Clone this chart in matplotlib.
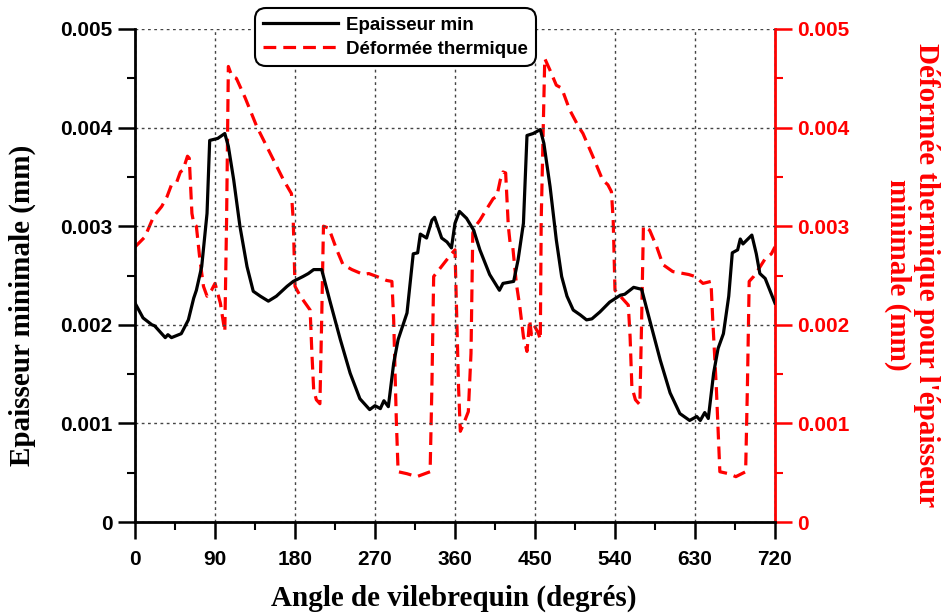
import numpy as np
import matplotlib
matplotlib.use("Agg")
import matplotlib.pyplot as plt
from matplotlib.ticker import MultipleLocator, FuncFormatter

# Epaisseur min (mm) vs angle (deg)
angle_ep = [0, 9, 19, 22, 34, 37, 41, 52, 60, 66, 69, 75, 81, 84, 93, 101, 105, 111, 118,
            126, 133, 141, 150, 159, 171, 178, 189, 195, 201, 210, 219, 231, 242, 253, 264,
            270, 276, 280, 285, 291, 296, 306, 313, 318, 321, 328, 334, 337, 345, 351, 356,
            360, 365, 373, 381, 388, 399, 410, 414, 426, 431, 437, 441, 448, 456, 460, 467,
            474, 480, 486, 493, 501, 508, 514, 523, 534, 546, 551, 561, 570, 579, 591, 602,
            613, 624, 632, 636, 641, 645, 651, 656, 662, 668, 672, 678, 681, 684, 694, 699,
            703, 709, 720]
epaisseur = [2.22, 2.07, 2.00, 1.99, 1.87, 1.90, 1.87, 1.91, 2.05, 2.27, 2.35, 2.59, 3.13,
             3.87, 3.89, 3.94, 3.81, 3.47, 3.00, 2.59, 2.34, 2.29, 2.24, 2.29, 2.39, 2.44,
             2.49, 2.52, 2.56, 2.56, 2.25, 1.85, 1.51, 1.25, 1.14, 1.18, 1.15, 1.23, 1.17,
             1.61, 1.85, 2.12, 2.72, 2.73, 2.92, 2.88, 3.06, 3.09, 2.88, 2.84, 2.78, 3.03,
             3.15, 3.08, 2.96, 2.76, 2.51, 2.35, 2.42, 2.44, 2.66, 3.03, 3.92, 3.94, 3.98,
             3.84, 3.40, 2.86, 2.49, 2.29, 2.15, 2.10, 2.05, 2.06, 2.13, 2.23, 2.30, 2.31,
             2.38, 2.36, 2.05, 1.64, 1.31, 1.10, 1.03, 1.07, 1.03, 1.11, 1.05, 1.51, 1.76,
             1.91, 2.29, 2.73, 2.76, 2.87, 2.82, 2.91, 2.72, 2.52, 2.47, 2.22]

# Deformee thermique (mm) vs angle (deg)
angle_def = [0, 11, 21, 30, 36, 41, 47, 51, 54, 59, 61, 64, 66, 69, 73, 77, 81, 86, 90, 96,
             101, 103, 105, 109, 114, 124, 137, 152, 167, 176, 178, 180, 186, 197, 199, 201,
             204, 208, 210, 212, 218, 227, 234, 244, 257, 263, 272, 283, 289, 291, 294, 296,
             306, 317, 332, 334, 336, 343, 351, 356, 360, 362, 364, 366, 369, 375, 378, 380,
             383, 388, 396, 403, 407, 411, 414, 417, 420, 422, 425, 429, 433, 437, 441, 444,
             446, 450, 454, 456, 457, 461, 467, 474, 480, 489, 499, 504, 515, 526, 532, 536,
             538, 540, 546, 555, 557, 559, 563, 568, 570, 572, 579, 587, 594, 605, 617, 623,
             630, 639, 648, 650, 654, 658, 668, 676, 687, 689, 691, 696, 702, 709, 716, 720]
deformee = [2.79, 2.89, 3.10, 3.20, 3.30, 3.42, 3.45, 3.55, 3.57, 3.71, 3.69, 3.13, 3.03,
            3.00, 2.66, 2.39, 2.29, 2.35, 2.42, 2.22, 1.93, 3.06, 4.62, 4.52, 4.50, 4.30,
            4.01, 3.74, 3.47, 3.33, 3.06, 2.39, 2.29, 2.15, 1.71, 1.34, 1.24, 1.20, 2.05,
            3.00, 2.98, 2.76, 2.61, 2.56, 2.51, 2.52, 2.49, 2.45, 2.44, 2.05, 1.03, 0.51,
            0.49, 0.46, 0.51, 1.37, 2.49, 2.57, 2.66, 2.72, 2.76, 2.05, 1.37, 0.92, 0.98,
            1.12, 1.71, 2.93, 3.00, 3.06, 3.18, 3.28, 3.30, 3.47, 3.55, 3.54, 3.00, 2.83,
            2.79, 2.42, 2.18, 1.88, 1.73, 2.05, 1.90, 1.98, 1.91, 1.85, 3.06, 4.70, 4.58,
            4.43, 4.40, 4.18, 4.01, 3.94, 3.71, 3.47, 3.42, 3.35, 3.06, 2.35, 2.29, 2.20,
            1.88, 1.37, 1.24, 1.19, 2.05, 3.00, 2.96, 2.79, 2.61, 2.54, 2.52, 2.51, 2.49,
            2.42, 2.44, 2.05, 1.37, 0.51, 0.49, 0.46, 0.51, 1.37, 2.44, 2.49, 2.57, 2.67,
            2.72, 2.79]

ep = np.array(epaisseur) / 1000.0
de = np.array(deformee) / 1000.0

sans = ['Liberation Sans', 'Arial', 'DejaVu Sans']
serif = ['Liberation Serif', 'Times New Roman', 'DejaVu Serif']

fig = plt.figure(figsize=(9.43, 6.14), dpi=100)
ax = fig.add_axes([0.1432, 0.1498, 0.6786, 0.803])
ax2 = ax.twinx()

l1, = ax.plot(angle_ep, ep, color='black', lw=2.3, label='Epaisseur min', zorder=3)
l2, = ax2.plot(angle_def, de, color='red', lw=2.3, ls=(0, (4, 2.2)), label='Déformée thermique', zorder=3)

fmt = FuncFormatter(lambda v, p: '0' if abs(v) < 1e-9 else f'{v:.3f}')
for a, c in ((ax, 'black'), (ax2, 'red')):
    a.set_ylim(0, 0.005)
    a.yaxis.set_major_locator(MultipleLocator(0.001))
    a.yaxis.set_minor_locator(MultipleLocator(0.0005))
    a.yaxis.set_major_formatter(fmt)
    a.tick_params(axis='y', which='major', direction='out', length=12, width=1.8,
                  colors=c, labelsize=15, pad=4)
    a.tick_params(axis='y', which='minor', direction='out', length=6, width=1.5, colors=c)
    for lab in a.get_yticklabels():
        lab.set_fontweight('bold')
        lab.set_family(sans)

ax.set_xlim(0, 720)
ax.xaxis.set_major_locator(MultipleLocator(90))
ax.xaxis.set_minor_locator(MultipleLocator(45))
ax.tick_params(axis='x', which='major', direction='out', length=12, width=1.8, labelsize=15, pad=8)
ax.tick_params(axis='x', which='minor', direction='out', length=6, width=1.5)
for lab in ax.get_xticklabels():
    lab.set_fontweight('bold')
    lab.set_family(sans)

ax.grid(True, which='major', ls=(0, (2, 2.5)), color='#444444', lw=1.0)
ax.set_axisbelow(True)

for a in (ax, ax2):
    a.spines['top'].set_visible(False)
ax.spines['left'].set_linewidth(2)
ax.spines['bottom'].set_linewidth(2)
ax2.spines['left'].set_visible(False)
ax2.spines['bottom'].set_visible(False)
ax2.spines['right'].set_color('red')
ax2.spines['right'].set_linewidth(2)
ax.spines['right'].set_visible(False)

fig.text(0.0233, 0.503, 'Epaisseur minimale (mm)', rotation=90, ha='center', va='center',
         fontsize=21, fontweight='bold', family=serif)
fig.text(0.4815, 0.026, 'Angle de vilebrequin (degrés)', ha='center', va='center',
         fontsize=21, fontweight='bold', family=serif)
fig.text(0.967, 0.552, "Déformée thermique pour l'épaisseur\nminimale (mm)", rotation=270,
         ha='center', va='center', multialignment='center', linespacing=1.05,
         fontsize=21, fontweight='bold', color='red', family=serif)

leg = ax.legend(handles=[l1, l2], loc='upper left', bbox_to_anchor=(0.1875, 1.0426),
                prop={'family': sans, 'weight': 'bold', 'size': 13.5},
                handlelength=4.0, handletextpad=0.4, borderpad=0.45, labelspacing=0.38,
                borderaxespad=0, fancybox=True, framealpha=1, edgecolor='black')
leg.get_frame().set_linewidth(1.5)
leg.get_frame().set_boxstyle('round,pad=0,rounding_size=0.6')
leg.set_zorder(10)
ax.set_zorder(ax2.get_zorder() + 1)
ax.patch.set_visible(False)

fig.savefig('out.png', dpi=100)
